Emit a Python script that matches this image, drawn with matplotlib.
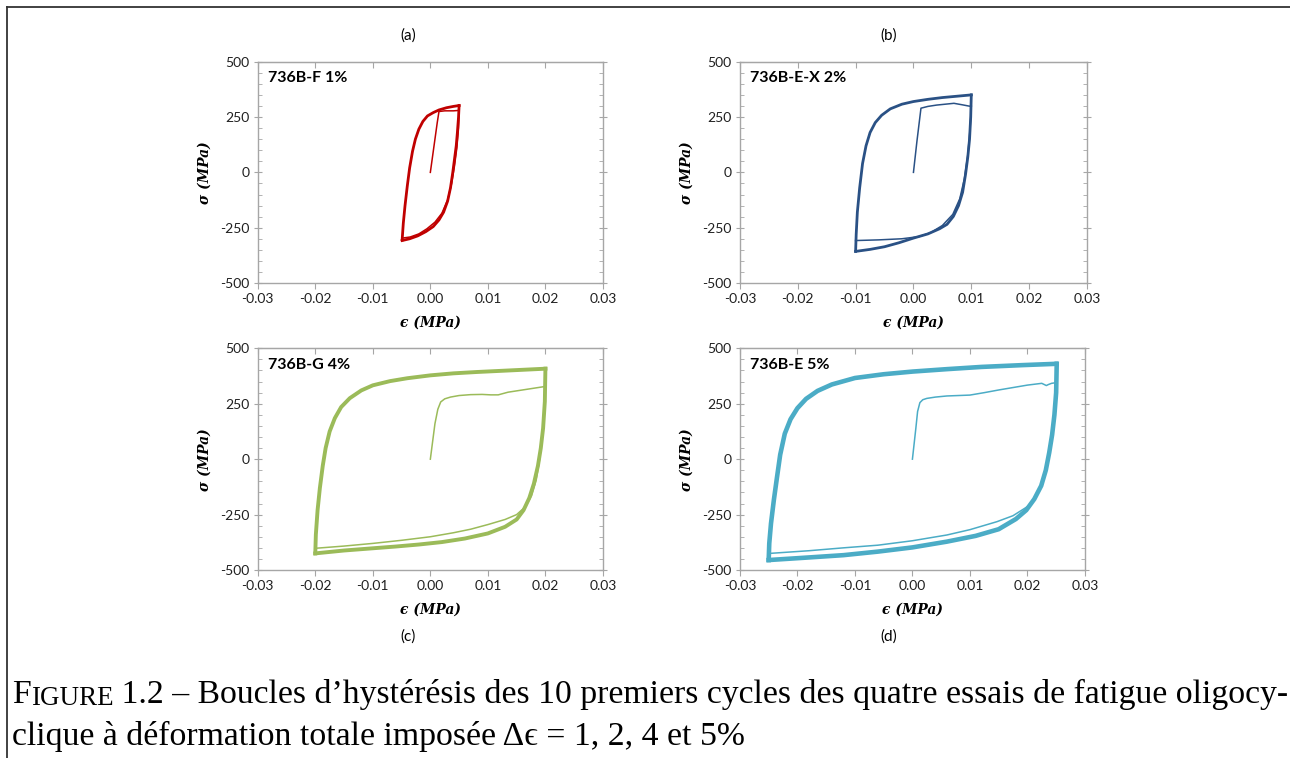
import matplotlib
matplotlib.use('Agg')
import matplotlib.pyplot as plt
from matplotlib.lines import Line2D
from matplotlib.ticker import MultipleLocator, FormatStrFormatter

plt.rcParams['font.family'] = ['Lato', 'DejaVu Sans']

# ---- data (strain, stress in MPa) ----
# (a) 736B-F 1%
a_init_x = [0, 0.0004, 0.0008, 0.0012, 0.0015, 0.0025, 0.0040, 0.0050]
a_init_y = [0, 75, 150, 225, 275, 278, 278, 280]
a_up_x = [-0.0049, -0.0047, -0.0044, -0.0040, -0.0036, -0.0031, -0.0026, -0.0020,
          -0.0013, -0.0005, 0.0005, 0.0015, 0.0028, 0.0040, 0.0050]
a_up_y = [-305, -230, -150, -60, 20, 95, 150, 195, 230, 255, 270, 282, 292, 298, 302]
a_down_x = [0.0050, 0.0049, 0.0047, 0.0045, 0.0042, 0.0039, 0.0035, 0.0030,
            0.0023, 0.0015, 0.0005, -0.0008, -0.0022, -0.0036, -0.0049]
a_down_y = [302, 250, 180, 120, 60, 0, -70, -130, -180, -215, -245, -268, -287, -300, -308]
a_first_x = [0.0050, 0.0049, 0.0046, 0.0042, 0.0037, 0.0030, 0.0020, 0.0008,
             -0.0006, -0.0020, -0.0035, -0.0049]
a_first_y = [280, 200, 110, 30, -50, -125, -185, -225, -255, -278, -292, -297]

# (b) 736B-E-X 2%
b_init_x = [0, 0.0006, 0.0013, 0.0025, 0.0040, 0.0055, 0.0070, 0.0085, 0.0095, 0.0100]
b_init_y = [0, 140, 290, 298, 304, 308, 312, 305, 300, 298]
b_up_x = [-0.0100, -0.0099, -0.0097, -0.0093, -0.0088, -0.0082, -0.0075, -0.0066,
          -0.0055, -0.0040, -0.0020, 0.0000, 0.0025, 0.0050, 0.0075, 0.0100]
b_up_y = [-357, -280, -180, -70, 40, 120, 180, 225, 258, 287, 308, 320, 330, 338, 344, 350]
b_down_x = [0.0100, 0.0099, 0.0097, 0.0094, 0.0090, 0.0085, 0.0078, 0.0069,
            0.0058, 0.0045, 0.0025, 0.0000, -0.0025, -0.0050, -0.0075, -0.0100]
b_down_y = [350, 250, 150, 70, -10, -90, -150, -199, -235, -255, -278, -297, -318, -336, -348, -357]
b_first_x = [0.0100, 0.0098, 0.0094, 0.0088, 0.0080, 0.0068, 0.0050, 0.0030,
             0.0010, -0.0020, -0.0060, -0.0100]
b_first_y = [298, 200, 80, -30, -120, -190, -240, -272, -290, -300, -305, -308]

# (c) 736B-G 4%
c_init_x = [0, 0.0004, 0.0008, 0.0013, 0.0018, 0.0025, 0.0035, 0.0050, 0.0070,
            0.0090, 0.0105, 0.0118, 0.0135, 0.0160, 0.0185, 0.0200]
c_init_y = [0, 80, 160, 225, 258, 272, 280, 287, 291, 292, 290, 290, 302, 312, 322, 328]
c_up_x = [-0.0200, -0.0199, -0.0196, -0.0192, -0.0187, -0.0182, -0.0175, -0.0166,
          -0.0155, -0.0140, -0.0120, -0.0100, -0.0070, -0.0040, 0.0000, 0.0040,
          0.0080, 0.0120, 0.0160, 0.0200]
c_up_y = [-425, -340, -230, -130, -30, 50, 125, 185, 235, 275, 310, 333, 352, 365,
          378, 387, 393, 398, 403, 408]
c_down_x = [0.0200, 0.0199, 0.0196, 0.0192, 0.0187, 0.0180, 0.0172, 0.0162, 0.0150,
            0.0130, 0.0100, 0.0060, 0.0020, -0.0020, -0.0060, -0.0100, -0.0150, -0.0200]
c_down_y = [408, 260, 140, 50, -30, -110, -175, -230, -272, -305, -335, -358, -374,
            -385, -394, -402, -412, -425]
c_first_x = [0.0200, 0.0198, 0.0195, 0.0190, 0.0184, 0.0176, 0.0165, 0.0150, 0.0130,
             0.0100, 0.0070, 0.0040, 0.0000, -0.0050, -0.0100, -0.0150, -0.0200]
c_first_y = [328, 220, 110, 0, -94, -165, -215, -250, -272, -295, -316, -332, -350,
             -366, -380, -392, -402]

# (d) 736B-E 5%
d_init_x = [0, 0.0003, 0.0006, 0.0009, 0.0013, 0.0018, 0.0025, 0.0040, 0.0060, 0.0080,
            0.0100, 0.0125, 0.0150, 0.0175, 0.0200, 0.0225, 0.0233, 0.0236, 0.0242, 0.0250]
d_init_y = [0, 70, 140, 215, 255, 268, 274, 280, 285, 287, 289, 300, 312, 323, 334,
            342, 332, 336, 342, 345]
d_up_x = [-0.0250, -0.0249, -0.0246, -0.0241, -0.0236, -0.0230, -0.0222, -0.0212,
          -0.0200, -0.0185, -0.0165, -0.0140, -0.0100, -0.0050, 0.0000, 0.0060,
          0.0120, 0.0190, 0.0250]
d_up_y = [-455, -380, -290, -184, -90, 20, 115, 180, 230, 272, 308, 337, 366, 383,
          395, 406, 416, 424, 430]
d_down_x = [0.0251, 0.0250, 0.0247, 0.0243, 0.0238, 0.0232, 0.0224, 0.0212, 0.0198,
            0.0180, 0.0150, 0.0110, 0.0060, 0.0000, -0.0060, -0.0120, -0.0190, -0.0250]
d_down_y = [430, 300, 200, 110, 30, -50, -120, -180, -230, -270, -316, -346, -372,
            -398, -417, -433, -445, -455]
d_first_x = [0.0250, 0.0248, 0.0245, 0.0240, 0.0233, 0.0225, 0.0215, 0.0200, 0.0175,
             0.0147, 0.0100, 0.0060, 0.0000, -0.0060, -0.0120, -0.0180, -0.0248]
d_first_y = [345, 250, 160, 60, -34, -110, -170, -214, -255, -282, -318, -342, -368,
             -388, -400, -413, -425]

panels = [
    ('(a)', '736B-F 1%', '#c00000', 2.0, [0.1998, 0.6266, 0.2676, 0.292],
     a_init_x, a_init_y, a_up_x, a_up_y, a_down_x, a_down_y, a_first_x, a_first_y),
    ('(b)', '736B-E-X 2%', '#2a5185', 2.0, [0.5736, 0.6266, 0.2690, 0.292],
     b_init_x, b_init_y, b_up_x, b_up_y, b_down_x, b_down_y, b_first_x, b_first_y),
    ('(c)', '736B-G 4%', '#9bbb59', 2.8, [0.1998, 0.2480, 0.2676, 0.2925],
     c_init_x, c_init_y, c_up_x, c_up_y, c_down_x, c_down_y, c_first_x, c_first_y),
    ('(d)', '736B-E 5%', '#4bacc6', 3.3, [0.5736, 0.2480, 0.2674, 0.2925],
     d_init_x, d_init_y, d_up_x, d_up_y, d_down_x, d_down_y, d_first_x, d_first_y),
]

fig = plt.figure(figsize=(12.9, 7.58), dpi=100)
spine_col = '#a6a6a6'
label_font = dict(family=['DejaVu Serif'], fontweight='bold', fontstyle='italic', fontsize=10)

for (tag, name, col, lw, pos, ix, iy, ux, uy, dx, dy, fx, fy) in panels:
    ax = fig.add_axes(pos)
    ax.plot(ix, iy, color=col, lw=1.1)
    ax.plot(fx, fy, color=col, lw=1.1)
    ax.plot(ux, uy, color=col, lw=lw, solid_joinstyle='round')
    ax.plot(dx, dy, color=col, lw=lw, solid_joinstyle='round')

    ax.set_xlim(-0.03, 0.03)
    ax.set_ylim(-500, 500)
    ax.xaxis.set_major_locator(MultipleLocator(0.01))
    ax.xaxis.set_major_formatter(FormatStrFormatter('%.2f'))
    ax.yaxis.set_major_locator(MultipleLocator(250))
    ax.yaxis.set_minor_locator(MultipleLocator(50))
    ax.yaxis.set_major_formatter(FormatStrFormatter('%d'))
    for s in ax.spines.values():
        s.set_color(spine_col)
        s.set_linewidth(1.0)
    ax.tick_params(axis='y', which='major', direction='inout', length=6, color=spine_col,
                   right=True, labelsize=10, labelcolor='#202020', pad=3)
    ax.tick_params(axis='y', which='minor', direction='in', length=3, color=spine_col, right=True)
    ax.tick_params(axis='x', which='major', direction='out', length=4, color=spine_col,
                   labelsize=10, labelcolor='#202020', pad=3)
    top = ax.secondary_xaxis('top')
    top.xaxis.set_major_locator(MultipleLocator(0.01))
    top.tick_params(direction='in', length=4, color=spine_col, labeltop=False)
    top.spines['top'].set_color(spine_col)

    ax.set_ylabel('σ (MPa)', labelpad=6, **label_font)
    ax.set_xlabel('ϵ (MPa)', labelpad=8, **label_font)
    ax.text(0.03, 0.925, name, transform=ax.transAxes, fontsize=11.5, fontweight='bold',
            va='center', ha='left', color='black')

# sub-figure tags
fig.text(408 / 1290, 1 - 36 / 758, '(a)', ha='center', va='center', fontsize=11)
fig.text(889 / 1290, 1 - 36 / 758, '(b)', ha='center', va='center', fontsize=11)
fig.text(408 / 1290, 1 - 637 / 758, '(c)', ha='center', va='center', fontsize=11)
fig.text(889 / 1290, 1 - 637 / 758, '(d)', ha='center', va='center', fontsize=11)

# page frame (left and top rule)
fig.add_artist(Line2D([7 / 1290, 7 / 1290], [0, 1 - 7 / 758], transform=fig.transFigure,
                      color='#333333', lw=1.3))
fig.add_artist(Line2D([7 / 1290, 1], [1 - 7 / 758, 1 - 7 / 758], transform=fig.transFigure,
                      color='#333333', lw=1.3))

# caption, "FIGURE" in small caps
bg = fig.add_axes([0, 0, 1, 1])
bg.axis('off')
cap = dict(family=['Liberation Serif', 'DejaVu Serif'], color='black')
size = 24.3
t1 = bg.text(12 / 1290, 1 - 703 / 758, 'F', fontsize=size, va='baseline', ha='left', **cap)
t2 = bg.annotate('IGURE', xy=(1, 0), xycoords=t1, xytext=(0, -1), textcoords='offset pixels',
                 fontsize=size * 0.8, va='bottom', ha='left', **cap)
bg.annotate(' 1.2 – Boucles d’hystérésis des 10 premiers cycles des quatre essais de fatigue oligocy-',
            xy=(1, 0), xycoords=t2, xytext=(0, 1), textcoords='offset pixels',
            fontsize=size, va='bottom', ha='left', **cap)
bg.text(12 / 1290, 1 - 745 / 758, 'clique à déformation totale imposée Δϵ = 1, 2, 4 et 5%',
        fontsize=size, va='baseline', ha='left', **cap)

fig.savefig('out.png', dpi=100)
